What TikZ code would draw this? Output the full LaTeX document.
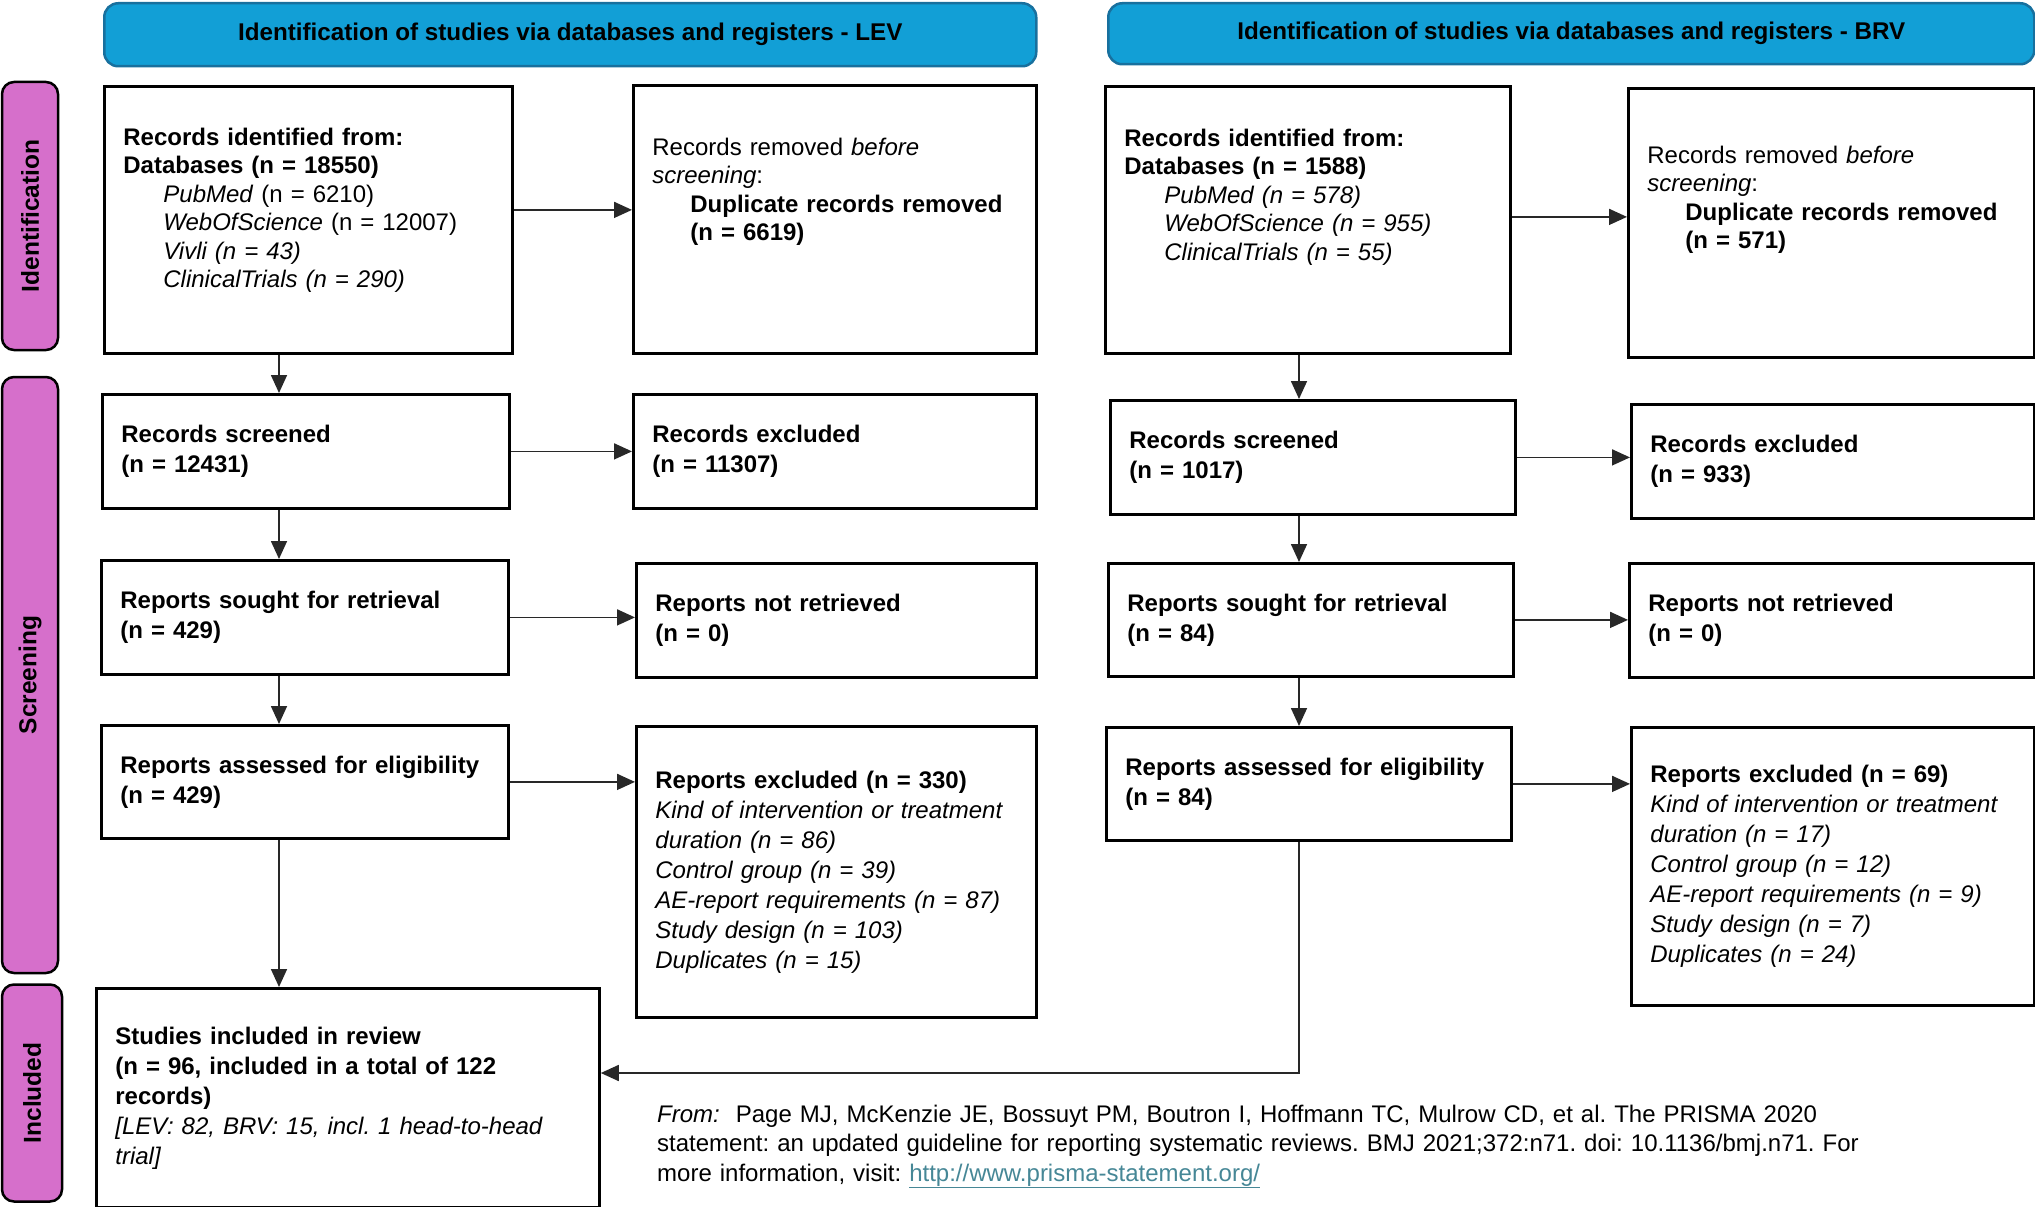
\documentclass[tikz,border=0pt]{standalone}
\usepackage{fontspec}
\setmainfont{Liberation Sans}
\usepackage{xcolor}
\usetikzlibrary{arrows.meta}
\definecolor{headerBlue}{RGB}{18,159,214}
\definecolor{headerEdge}{RGB}{24,112,158}
\definecolor{phasePink}{RGB}{214,111,203}
\definecolor{linkTeal}{RGB}{70,135,150}
\definecolor{flowGray}{RGB}{40,40,40}
\frenchspacing

\begin{document}
\begin{tikzpicture}[
  x=1pt,
  y=-1pt,
  every node/.style={
    font=\fontsize{24}{30}\selectfont,
  },
  header/.style={
    draw=headerEdge,
    line width=2.5pt,
    fill=headerBlue,
    rounded corners=14pt,
    anchor=north west,
    font=\fontsize{24.2}{30}\selectfont\bfseries,
  },
  phase/.style={
    draw=black,
    line width=2.5pt,
    fill=phasePink,
    rounded corners=12pt,
    rotate=90,
    font=\fontsize{24.5}{30}\selectfont\bfseries,
  },
  size/.code 2 args={
    \pgfmathsetlengthmacro\boxtw{#1-38pt}
    \edef\boxtmp{\noexpand\tikzset{minimum width=#1, minimum height=#2, text width=\boxtw}}
    \boxtmp
  },
  box/.style={
    draw=black,
    line width=2.8pt,
    fill=white,
    anchor=north west,
    align=left,
    inner xsep=19pt,
    inner ysep=0pt,
  },
  idbox/.style={
    box,
    font=\fontsize{24}{28.5}\selectfont,
    text height=18pt,
  },
  flow/.style={
    draw=flowGray,
    line width=1.7pt,
    -{Triangle[length=18pt,width=16pt]},
  },
]
\useasboundingbox (0,0) rectangle (2035,1207);

\node[header, minimum width=932pt, minimum height=63pt] (levHead) at (103,2)
  {Identification of studies via databases and registers - LEV};
\node[header, minimum width=926pt, minimum height=61pt] (brvHead) at (1107,2)
  {Identification of studies via databases and registers - BRV};

\foreach \nm/\cx/\cy/\len/\thick/\txt in {idBar/30/216/268/56/Identification,
  scrBar/30/675/596/56/Screening, inclBar/32/1093/217/60/Included}
  \node[phase, minimum width=\len pt, minimum height=\thick pt] (\nm) at (\cx,\cy) {\txt};

% LEV column
\node[idbox, size={408pt}{267pt}, text depth=167pt] (levId) at (103,85)
  {\textbf{Records identified from:}\\
   \textbf{Databases (n = 18550)}\\
   \hspace*{40pt}\textit{PubMed} (n = 6210)\\
   \hspace*{40pt}\textit{WebOfScience} (n = 12007)\\
   \hspace*{40pt}\textit{Vivli (n = 43)}\\
   \hspace*{40pt}\textit{ClinicalTrials (n = 290)}};
\node[idbox, size={403pt}{268pt}, text depth=146pt] (levDup) at (632,84)
  {Records removed \textit{before}\\
   \textit{screening}:\\
   \hspace*{38pt}\textbf{Duplicate records removed}\\
   \hspace*{38pt}\textbf{(n = 6619)}};
\node[box, size={407pt}{114pt}] (levScr) at (101,393)
  {\textbf{Records screened}\\ \textbf{(n = 12431)}};
\node[box, size={403pt}{114pt}] (levExc) at (632,393)
  {\textbf{Records excluded}\\ \textbf{(n = 11307)}};
\node[box, size={407pt}{114pt}] (levSought) at (100,559)
  {\textbf{Reports sought for retrieval}\\ \textbf{(n = 429)}};
\node[box, size={400pt}{114pt}] (levNotRet) at (635,562)
  {\textbf{Reports not retrieved}\\ \textbf{(n = 0)}};
\node[box, size={407pt}{113pt}] (levElig) at (100,724)
  {\textbf{Reports assessed for eligibility}\\ \textbf{(n = 429)}};
\node[box, size={400pt}{291pt}] (levRepExc) at (635,725)
  {\textbf{Reports excluded (n = 330)}\\
   \textit{Kind of intervention or treatment}\\
   \textit{duration (n = 86)}\\
   \textit{Control group (n = 39)}\\
   \textit{AE-report requirements (n = 87)}\\
   \textit{Study design (n = 103)}\\
   \textit{Duplicates (n = 15)}};

% BRV column
\node[idbox, size={405pt}{267pt}, text depth=165pt] (brvId) at (1104,85)
  {\textbf{Records identified from:}\\
   \textbf{Databases (n = 1588)}\\
   \hspace*{40pt}\textit{PubMed (n = 578)}\\
   \hspace*{40pt}\textit{WebOfScience (n = 955)}\\
   \hspace*{40pt}\textit{ClinicalTrials (n = 55)}};
\node[idbox, size={406pt}{269pt}, text depth=137pt] (brvDup) at (1627,87)
  {Records removed \textit{before}\\
   \textit{screening}:\\
   \hspace*{38pt}\textbf{Duplicate records removed}\\
   \hspace*{38pt}\textbf{(n = 571)}};
\node[box, size={405pt}{114pt}] (brvScr) at (1109,399)
  {\textbf{Records screened}\\ \textbf{(n = 1017)}};
\node[box, size={403pt}{114pt}] (brvExc) at (1630,403)
  {\textbf{Records excluded}\\ \textbf{(n = 933)}};
\node[box, size={405pt}{113pt}] (brvSought) at (1107,562)
  {\textbf{Reports sought for retrieval}\\ \textbf{(n = 84)}};
\node[box, size={405pt}{114pt}] (brvNotRet) at (1628,562)
  {\textbf{Reports not retrieved}\\ \textbf{(n = 0)}};
\node[box, size={405pt}{113pt}] (brvElig) at (1105,726)
  {\textbf{Reports assessed for eligibility}\\ \textbf{(n = 84)}};
\node[box, size={403pt}{278pt}] (brvRepExc) at (1630,726)
  {\textbf{Reports excluded (n = 69)}\\
   \textit{Kind of intervention or treatment}\\
   \textit{duration (n = 17)}\\
   \textit{Control group (n = 12)}\\
   \textit{AE-report requirements (n = 9)}\\
   \textit{Study design (n = 7)}\\
   \textit{Duplicates (n = 24)}};

% included
\node[box, size={503pt}{219pt}] (incl) at (95,987)
  {\textbf{Studies included in review}\\
   \textbf{(n = 96, included in a total of 122}\\
   \textbf{records)}\\
   \textit{[LEV: 82, BRV: 15, incl. 1 head-to-head}\\
   \textit{trial]}};

\node[anchor=base west, align=left, inner sep=0pt, text width=1360pt,
  font=\fontsize{24}{29.5}\selectfont] (cite) at (657,1122)
  {\textit{From:}\ \ Page MJ, McKenzie JE, Bossuyt PM, Boutron I, Hoffmann TC, Mulrow CD, et al. The PRISMA 2020\\
   statement: an updated guideline for reporting systematic reviews. BMJ 2021;372:n71. doi: 10.1136/bmj.n71. For\\
   more information, visit: \textcolor{linkTeal}{\underline{http://www.prisma-statement.org/}}};

% connectors
\coordinate (levCol) at (279,0);
\coordinate (brvCol) at (1299,0);
\coordinate (bend) at (1299,1073);
\foreach \a/\b in {levId/levScr, levScr/levSought, levSought/levElig, levElig/incl}
  \draw[flow] (levCol |- \a.south) -- (levCol |- \b.north);
\foreach \a/\b in {brvId/brvScr, brvScr/brvSought, brvSought/brvElig}
  \draw[flow] (brvCol |- \a.south) -- (brvCol |- \b.north);
\draw[flow] ([yshift=10pt]levId.east) -- ([yshift=10pt]levId.east -| levDup.west);
\draw[flow] ([yshift=3pt]brvId.east) -- ([yshift=3pt]brvId.east -| brvDup.west);
\foreach \a/\b in {levScr/levExc, levSought/levNotRet, levElig/levRepExc,
  brvScr/brvExc, brvSought/brvNotRet, brvElig/brvRepExc}
  \draw[flow] (\a.east) -- (\a.east -| \b.west);
\draw[flow] (brvCol |- brvElig.south) -- (bend) -- (bend -| incl.east);
\end{tikzpicture}
\end{document}
